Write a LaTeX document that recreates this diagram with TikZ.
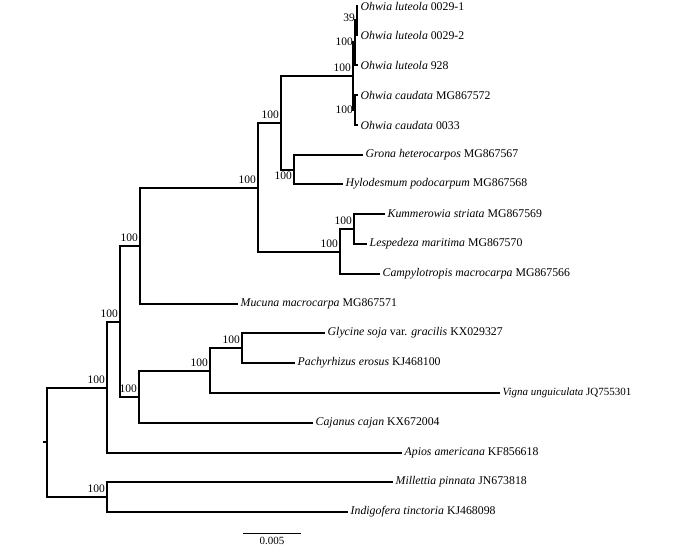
\documentclass[tikz,border=0pt]{standalone}
\usepackage{fontspec}
\setmainfont{Liberation Serif}
\usetikzlibrary{positioning, calc}
\tikzset{
  branch/.style={line width=2pt, color=black},
  taxon/.style={
    anchor=west, inner sep=2.5pt, font=\fontsize{11.8}{13}\selectfont
  },
  boot/.style={
    anchor=south east, inner sep=1pt, xshift=-1pt, yshift=3pt,
    font=\fontsize{11.5}{12}\selectfont
  },
  bootside/.style={
    anchor=east, inner sep=1pt, xshift=-1pt,
    font=\fontsize{11.5}{12}\selectfont
  },
  bootbelow/.style={
    anchor=north east, inner sep=1pt, xshift=-1pt, yshift=-1pt,
    font=\fontsize{11.5}{12}\selectfont
  },
  scalebar/.style={line width=1pt}
}

\begin{document}
\begin{tikzpicture}[x=1pt, y=-1pt]
  \useasboundingbox (0,0) rectangle (674,548);

  % internal nodes
  \coordinate (root) at (47,442);
  \coordinate (stub) at (43,442);
  \coordinate (nA) at (107,388);
  \coordinate (nB) at (107,497);
  \coordinate (nC) at (120,322);
  \coordinate (nD) at (139,397);
  \coordinate (nE) at (140,246);
  \coordinate (nF) at (258,188);
  \coordinate (nG) at (281,123);
  \coordinate (nH) at (340,252);
  \coordinate (nI) at (354,229);
  \coordinate (nJ) at (294,170);
  \coordinate (nK) at (353,76);
  \coordinate (nO) at (355,42);
  \coordinate (nN) at (357,20);
  \coordinate (nP) at (355,110);
  \coordinate (nL) at (210,371);
  \coordinate (nM) at (242,348);

  % taxa
  \node[taxon] (oluA) at (358,6) {\textit{Ohwia luteola} 0029-1};
  \node[taxon] (oluB) at (358,35) {\textit{Ohwia luteola} 0029-2};
  \node[taxon] (oluC) at (358,65) {\textit{Ohwia luteola} 928};
  \node[taxon] (ocaA) at (358,95) {\textit{Ohwia caudata} MG867572};
  \node[taxon] (ocaB) at (358,125) {\textit{Ohwia caudata} 0033};
  \node[taxon] (grona) at (363,155) {\textit{Grona heterocarpos} MG867567};
  \node[taxon] (hylo) at (343,184) {\textit{Hylodesmum podocarpum} MG867568};
  \node[taxon] (kumm) at (385,214) {\textit{Kummerowia striata} MG867569};
  \node[taxon] (lesp) at (367,244) {\textit{Lespedeza maritima} MG867570};
  \node[taxon] (campy) at (380,274) {\textit{Campylotropis macrocarpa} MG867566};
  \node[taxon] (mucuna) at (238,304) {\textit{Mucuna macrocarpa} MG867571};
  \node[taxon] (glycine) at (325,333) {\textit{Glycine soja} var. \textit{gracilis} KX029327};
  \node[taxon] (pachy) at (295,363) {\textit{Pachyrhizus erosus} KJ468100};
  \node[taxon, font=\fontsize{11}{12}\selectfont] (vigna) at (500,393) {\textit{Vigna unguiculata} JQ755301};
  \node[taxon] (cajanus) at (313,423) {\textit{Cajanus cajan} KX672004};
  \node[taxon] (apios) at (402,453) {\textit{Apios americana} KF856618};
  \node[taxon] (mill) at (393,482) {\textit{Millettia pinnata} JN673818};
  \node[taxon] (indig) at (348,512) {\textit{Indigofera tinctoria} KJ468098};

  % bootstrap values
  \node[bootside, yshift=2pt] (bN) at (nN) {39};
  \node[bootside] (bO) at (nO) {100};
  \node[bootside] (bP) at (nP) {100};
  \node[boot] (bK) at (nK) {100};
  \node[boot] (bG) at (nG) {100};
  \node[bootbelow] (bJ) at (nJ) {100};
  \node[boot] (bF) at (nF) {100};
  \node[boot] (bH) at (nH) {100};
  \node[boot] (bI) at (nI) {100};
  \node[boot] (bE) at (nE) {100};
  \node[boot] (bC) at (nC) {100};
  \node[boot] (bD) at (nD) {100};
  \node[boot] (bL) at (nL) {100};
  \node[boot] (bM) at (nM) {100};
  \node[boot] (bA) at (nA) {100};
  \node[boot] (bB) at (nB) {100};

  % branches
  \draw[branch] (stub) -- (root);
  \draw[branch] (root) |- (nA);
  \draw[branch] (root) |- (nB);
  \draw[branch] (nB) |- (mill.west);
  \draw[branch] (nB) |- (indig.west);
  \draw[branch] (nA) |- (nC);
  \draw[branch] (nA) |- (apios.west);
  \draw[branch] (nC) |- (nE);
  \draw[branch] (nC) |- (nD);
  \draw[branch] (nD) |- (nL);
  \draw[branch] (nD) |- (cajanus.west);
  \draw[branch] (nL) |- (nM);
  \draw[branch] (nL) |- (vigna.west);
  \draw[branch] (nM) |- (glycine.west);
  \draw[branch] (nM) |- (pachy.west);
  \draw[branch] (nE) |- (nF);
  \draw[branch] (nE) |- (mucuna.west);
  \draw[branch] (nF) |- (nG);
  \draw[branch] (nF) |- (nH);
  \draw[branch] (nH) |- (nI);
  \draw[branch] (nH) |- (campy.west);
  \draw[branch] (nI) |- (kumm.west);
  \draw[branch] (nI) |- (lesp.west);
  \draw[branch] (nG) |- (nK);
  \draw[branch] (nG) |- (nJ);
  \draw[branch] (nJ) |- (grona.west);
  \draw[branch] (nJ) |- (hylo.west);
  \draw[branch] (nK) |- (nO);
  \draw[branch] (nK) |- (nP);
  \draw[branch] (nO) |- (nN);
  \draw[branch] (nO) |- (oluC.west);
  \draw[branch] (nN) |- (oluA.west);
  \draw[branch] (nN) |- (oluB.west);
  \draw[branch] (nP) |- (ocaA.west);
  \draw[branch] (nP) |- (ocaB.west);

  % scale bar
  \coordinate (sbL) at (243,533.5);
  \coordinate (sbR) at (301,533.5);
  \draw[scalebar] (sbL) -- node[below, inner sep=1.5pt, yshift=-1.5pt,
    font=\fontsize{11}{12}\selectfont] (sbT) {0.005} (sbR);
\end{tikzpicture}
\end{document}
